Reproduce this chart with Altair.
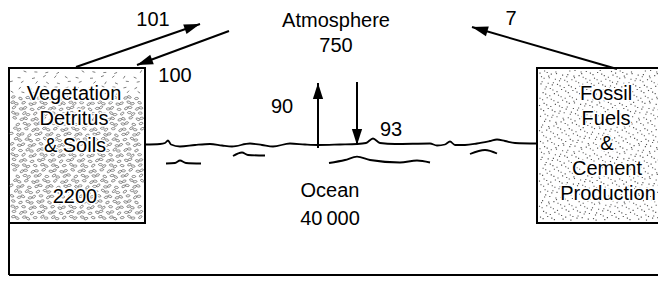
import math
import altair as alt
import numpy as np
import pandas as pd

FONT = "Liberation Sans"

# ---- text content (image coordinates: x right, y down) ----
pool_labels = ["Atmosphere", "750", "Ocean", "40\u2009000"]
pool_x = [336, 336, 330, 330]
pool_y = [27, 52, 197, 225]

flux_labels = ["101", "100", "90", "93", "7"]
flux_x = [153, 175, 282, 391, 511]
flux_y = [26, 82, 113, 136, 25]

veg_labels = ["Vegetation", "Detritus", "& Soils", "2200"]
veg_x = [74, 74, 75, 75]
veg_y = [100, 125, 152, 203]

fossil_labels = ["Fossil", "Fuels", "&", "Cement", "Production"]
fossil_x = [606, 606, 607, 607, 608]
fossil_y = [100, 125, 150, 175, 200]

# ---- arrows (start -> tip) ----
arrow_x0 = [76, 229, 318, 357, 617]
arrow_y0 = [67, 31, 148, 82, 69]
arrow_x1 = [200, 137, 318, 357, 472]
arrow_y1 = [24, 65, 83, 145, 27]

# ---- boxes ----
box_x0 = [9, 537]
box_x1 = [145, 675]
box_y0 = [68, 68]
box_y1 = [223, 223]

# ---- frame lines ----
frame_x0 = [9, 9]
frame_y0 = [223, 275]
frame_x1 = [9, 675]
frame_y1 = [275, 275]

# ---- sea surface and wave strokes ----
sea_x = [145, 160, 165, 168, 171, 180, 195, 210, 222, 232, 250, 262, 273, 290, 305, 318,
         340, 357, 366, 373, 380, 395, 430, 437, 445, 450, 455, 465, 477, 490, 497, 505, 515, 537]
sea_y = [144.5, 144, 143, 140.5, 144.5, 146.5, 145, 144, 145.5, 146.5, 143.5, 145, 146.5, 143.5, 144.5, 145,
         144.5, 144, 143, 138.5, 143, 144, 143.5, 145.5, 144.5, 141.5, 145, 145, 143.5, 141, 139.5, 141, 143, 143.5]
wave1_x = [166, 175, 180, 186, 201]
wave1_y = [163.5, 163, 160.5, 163, 163.5]
wave2_x = [233, 242, 248, 265]
wave2_y = [156, 152.5, 155, 155.5]
wave3_x = [329, 345, 357, 370, 400, 417, 430]
wave3_y = [163, 160, 156.7, 160, 162.5, 160.5, 162.5]
wave4_x = [470, 485, 497]
wave4_y = [154, 150, 153.5]

xs = alt.Scale(domain=[8, 658], nice=False, zero=False)
ys = alt.Scale(domain=[8, 276], nice=False, zero=False, reverse=True)


def X(f="x"):
    return alt.X(f + ":Q", scale=xs, axis=None)


def Y(f="y"):
    return alt.Y(f + ":Q", scale=ys, axis=None)


# boxes
boxes = pd.DataFrame({"x": box_x0, "x2": box_x1, "y": box_y0, "y2": box_y1})
box_layer = alt.Chart(boxes).mark_rect(fill="white", stroke="black", strokeWidth=2).encode(
    x=X(), x2="x2:Q", y=Y(), y2="y2:Q")

# textures (decorative patterns)
lx, ly, la, dx_, dy_, da_ = [], [], [], [], [], []
for i, gx in enumerate(np.arange(12.0, 143.0, 5.8)):
    for j, gy in enumerate(np.arange(72.0, 221.0, 5.2)):
        ox = ((i * 7 + j * 3) % 5 - 2) * 0.7 + (j % 2) * 2.7
        oy = ((i * 3 + j * 5) % 5 - 2) * 0.5
        px, py = gx + ox, gy + oy
        if not (11 < px < 143 and 71 < py < 221):
            continue
        if py < 95:
            if (i + j) % 2 == 0:
                dx_.append(px)
                dy_.append(py)
                da_.append(float((300 + (i * 41 + j * 23) % 100) % 360))
        else:
            lx.append(px)
            ly.append(py)
            la.append(float((320 + (i * 37 + j * 61) % 70) % 360))
veg_tex = pd.DataFrame({"x": lx, "y": ly, "a": la})
veg_tex_layer = alt.Chart(veg_tex).mark_point(
    shape="M-1,0 A1,0.55 0 1,0 1,0 A1,0.55 0 1,0 -1,0 Z",
    filled=False, stroke="#444", strokeWidth=0.6, size=15, opacity=1
).encode(x=X(), y=Y(), angle=alt.Angle("a:Q", scale=None))
veg_dash = pd.DataFrame({"x": dx_, "y": dy_, "a": da_})
veg_dash_layer = alt.Chart(veg_dash).mark_point(
    shape="M-1,0 L1,0", filled=False, stroke="#555", strokeWidth=0.7, size=9, opacity=1
).encode(x=X(), y=Y(), angle=alt.Angle("a:Q", scale=None))

rx, ry = [], []
for i, gx in enumerate(np.arange(540.0, 660.0, 3.6)):
    for j, gy in enumerate(np.arange(71.0, 221.0, 3.6)):
        ox = ((i * 5 + j * 3) % 7 - 3) * 0.5
        oy = ((i * 3 + j * 7) % 7 - 3) * 0.5
        if (i * 11 + j * 7) % 3 == 0:
            continue
        px, py = gx + ox, gy + oy
        if 539 < px and 70 < py < 221:
            rx.append(px)
            ry.append(py)
fossil_tex = pd.DataFrame({"x": rx, "y": ry})
fossil_tex_layer = alt.Chart(fossil_tex).mark_square(size=1.3, color="#555", opacity=1).encode(x=X(), y=Y())

# frame
frame = pd.DataFrame({"x": frame_x0, "y": frame_y0, "x2": frame_x1, "y2": frame_y1})
frame_layer = alt.Chart(frame).mark_rule(color="black", strokeWidth=2).encode(
    x=X(), y=Y(), x2="x2:Q", y2="y2:Q")

# waves
wave_rows = []
for name, wx, wy in [("sea", sea_x, sea_y), ("w1", wave1_x, wave1_y), ("w2", wave2_x, wave2_y),
                     ("w3", wave3_x, wave3_y), ("w4", wave4_x, wave4_y)]:
    for k, (a, b) in enumerate(zip(wx, wy)):
        wave_rows.append({"seg": name, "k": k, "x": a, "y": b})
waves = pd.DataFrame(wave_rows)
wave_layer = alt.Chart(waves).mark_line(color="black", strokeWidth=1.8, interpolate="monotone").encode(
    x=X(), y=Y(), detail="seg:N", order="k:Q")

# arrows
ang = [(math.degrees(math.atan2(x1 - x0, -(y1 - y0))) + 360) % 360
       for x0, y0, x1, y1 in zip(arrow_x0, arrow_y0, arrow_x1, arrow_y1)]
arrows = pd.DataFrame({"x": arrow_x0, "y": arrow_y0, "x2": arrow_x1, "y2": arrow_y1, "a": ang})
arrow_lines = alt.Chart(arrows).mark_rule(color="black", strokeWidth=2).encode(
    x=X(), y=Y(), x2="x2:Q", y2="y2:Q")
heads = pd.DataFrame({"x": arrow_x1, "y": arrow_y1, "a": ang})
arrow_heads = alt.Chart(heads).mark_point(
    shape="M0,0 L0.32,1 L-0.32,1 Z", filled=True, color="black", size=1024, opacity=1, strokeWidth=0
).encode(x=X(), y=Y(), angle=alt.Angle("a:Q", scale=None))

# texts
def text_layer(labels, xv, yv, halo=False):
    df = pd.DataFrame({"t": labels, "x": xv, "y": yv})
    layers = []
    if halo:
        layers.append(alt.Chart(df).mark_text(
            font=FONT, fontSize=20, align="center", baseline="alphabetic",
            color="white", stroke="white", strokeWidth=3).encode(x=X(), y=Y(), text="t:N"))
    layers.append(alt.Chart(df).mark_text(
        font=FONT, fontSize=20, align="center", baseline="alphabetic", color="black"
    ).encode(x=X(), y=Y(), text="t:N"))
    return layers

layers = [box_layer, veg_tex_layer, veg_dash_layer, fossil_tex_layer, frame_layer, wave_layer,
          arrow_lines, arrow_heads]
layers += text_layer(pool_labels, pool_x, pool_y)
layers += text_layer(flux_labels, flux_x, flux_y)
layers += text_layer(veg_labels, veg_x, veg_y, halo=True)
layers += text_layer(fossil_labels, fossil_x, fossil_y, halo=True)

chart = alt.layer(*layers).properties(
    width=650, height=268, padding=0, autosize=alt.AutoSizeParams(type="none"),
    background="white"
).configure_view(stroke="transparent")

chart.save("out.html", embed_options={"renderer": "svg", "actions": False})
